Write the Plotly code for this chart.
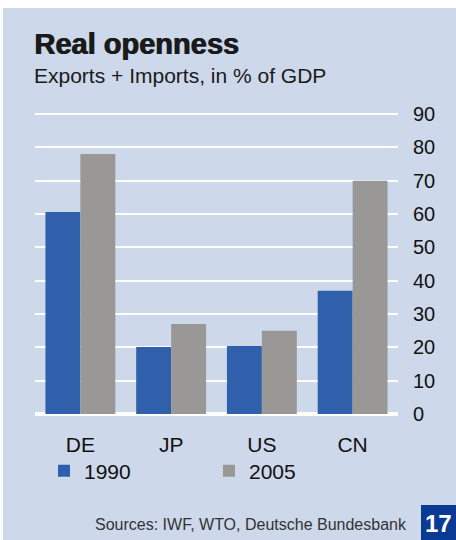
import plotly.graph_objects as go

# Trade openness data (exports + imports, % of GDP)
countries = ["DE", "JP", "US", "CN"]
series_names = ["1990", "2005"]
values_1990 = [60.6, 20.1, 20.4, 37.0]
values_2005 = [78.0, 27.0, 25.0, 70.0]
y_ticks = [0, 10, 20, 30, 40, 50, 60, 70, 80, 90]

W, H = 456, 540
PANEL = "#cdd8ea"
BLUE = "#3060ab"
GREY = "#999896"
FONT = "Liberation Sans, Arial, sans-serif"

# plot area in pixels
L, R, T, B = 35, 398, 112, 416


def px_x(px):
    return (px - L) / (R - L)


def px_y(py):
    return (B - py) / (B - T)


fig = go.Figure()
fig.add_trace(go.Bar(x=countries, y=values_1990, name=series_names[0],
                     marker=dict(color=BLUE, line=dict(width=0))))
fig.add_trace(go.Bar(x=countries, y=values_2005, name=series_names[1],
                     marker=dict(color=GREY, line=dict(width=0))))

fig.update_layout(
    width=W, height=H,
    margin=dict(l=L, r=W - R, t=T, b=H - B, pad=0),
    paper_bgcolor=PANEL,
    plot_bgcolor=PANEL,
    barmode="group",
    bargap=0.23,
    bargroupgap=0,
    font=dict(family=FONT, color="#111111", size=21),
    showlegend=True,
    legend=dict(
        orientation="h", x=px_x(44), y=px_y(471), xanchor="left", yanchor="middle",
        bgcolor="rgba(0,0,0,0)", font=dict(size=21, family=FONT, color="#111111"),
        entrywidth=120, entrywidthmode="pixels", itemwidth=30,
        traceorder="normal", tracegroupgap=0,
    ),
    xaxis=dict(
        range=[-0.5, 3.5], showgrid=False, zeroline=False, showline=False,
        ticks="", ticklabelstandoff=14, tickfont=dict(size=21),
    ),
    yaxis=dict(
        side="right", range=[-0.6, 90.6], tickvals=y_ticks,
        showgrid=True, gridcolor="white", gridwidth=2,
        zeroline=True, zerolinecolor="white", zerolinewidth=4,
        showline=False, ticks="", ticklabelstandoff=14,
        tickfont=dict(size=20),
    ),
)

# white page edges around the panel
fig.add_shape(type="rect", xref="paper", yref="paper",
              x0=px_x(-5), x1=px_x(W + 5), y0=px_y(8), y1=px_y(-5),
              fillcolor="white", line=dict(width=0), layer="below")
fig.add_shape(type="rect", xref="paper", yref="paper",
              x0=px_x(-5), x1=px_x(3), y0=px_y(W * 2), y1=px_y(-5),
              fillcolor="white", line=dict(width=0), layer="below")

# page number box
fig.add_shape(type="rect", xref="paper", yref="paper",
              x0=px_x(421), x1=px_x(W + 2), y0=px_y(H + 2), y1=px_y(505),
              fillcolor="#0a3a94", line=dict(width=0), layer="above")

# heavy headline: bold face thickened with a 1px horizontal shadow
fig.add_annotation(text="<b>Real openness</b>", xref="paper", yref="paper",
                   x=px_x(32), y=px_y(44), xanchor="left", yanchor="middle",
                   showarrow=False,
                   font=dict(size=29, family=FONT, color="#1a1a1a",
                             shadow="1px 0px 0px #1a1a1a"))
fig.add_annotation(text="Exports + Imports, in % of GDP", xref="paper", yref="paper",
                   x=px_x(32), y=px_y(75), xanchor="left", yanchor="middle",
                   showarrow=False, font=dict(size=21, family=FONT, color="#1a1a1a"))
fig.add_annotation(text="Sources: IWF, WTO, Deutsche Bundesbank", xref="paper", yref="paper",
                   x=px_x(409), y=px_y(524), xanchor="right", yanchor="middle",
                   showarrow=False, font=dict(size=16, family=FONT, color="#333333"))
fig.add_annotation(text="<b>17</b>", xref="paper", yref="paper",
                   x=px_x(438.5), y=px_y(523), xanchor="center", yanchor="middle",
                   showarrow=False, font=dict(size=24, family=FONT, color="white"))

fig.write_html("out.html")
